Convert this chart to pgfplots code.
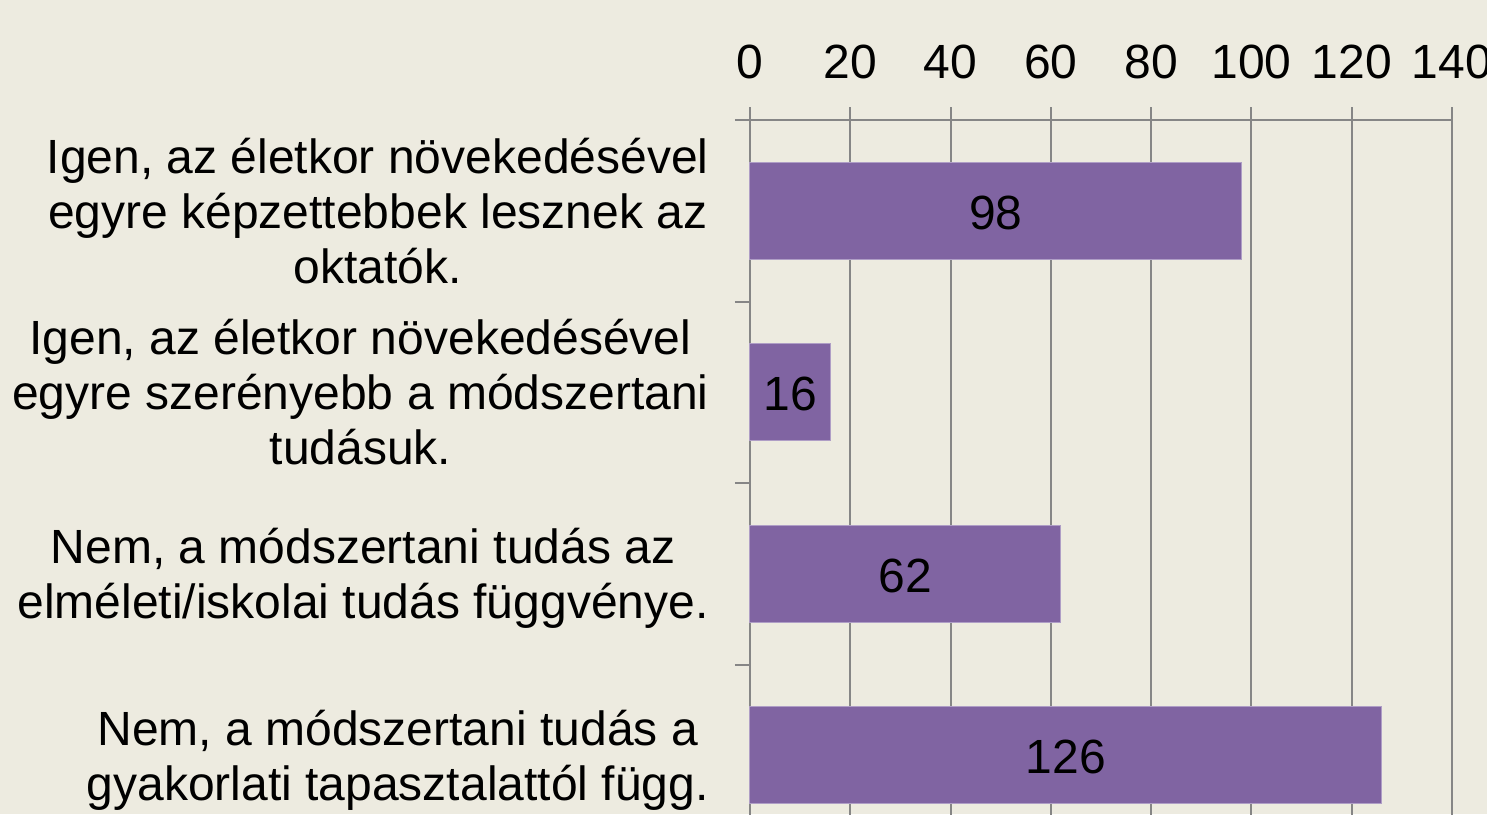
\documentclass[border=0pt]{standalone}
\usepackage{fontspec}
\setmainfont{Liberation Sans}
\usepackage{pgfplots}
\pgfplotsset{compat=1.18}
\usepackage{pgfplotstable}
\definecolor{bgcol}{RGB}{237,235,224}
\definecolor{barcol}{RGB}{128,100,162}
\definecolor{baredge}{RGB}{175,158,198}
\definecolor{gridcol}{RGB}{134,134,134}
\pgfplotstableread{
y v
3 98
2 16
1 62
0 126
}\datatable
\begin{document}
\begin{tikzpicture}
\fill[bgcol] (-375pt,60pt) rectangle (368.5pt,-347pt);
\begin{scope}
\clip (-375pt,60pt) rectangle (368.5pt,-347pt);
\begin{axis}[
  at={(0,0)}, anchor=north west,
  scale only axis, width=351pt, height=363pt,
  xmin=0, xmax=140, ymin=-0.5, ymax=3.5,
  xtick={0,20,...,140},
  xtick pos=right, xticklabel pos=right,
  tick align=outside,
  major tick length=6.5pt,
  minor tick length=7.5pt,
  xmajorgrids,
  grid style={gridcol, line width=1pt},
  axis line style={gridcol, line width=1pt},
  every tick/.style={gridcol, line width=1pt},
  ytick={0,1,2,3},
  minor ytick={-0.5,0.5,1.5,2.5,3.5},
  ytick pos=left,
  major y tick style={draw=none},
  minor y tick style={gridcol, line width=1pt},
  yticklabels={
    {Nem, a módszertani tudás a\\gyakorlati tapasztalattól függ.},
    {Nem, a módszertani tudás az\\elméleti/iskolai tudás függvénye.},
    {Igen, az életkor növekedésével\\egyre szerényebb a módszertani\\tudásuk.},
    {Igen, az életkor növekedésével\\egyre képzettebbek lesznek az\\oktatók.}
  },
  yticklabel style={align=center, anchor=east, inner sep=0pt, xshift=-14pt,
    text depth=0pt, font=\fontsize{24}{27.5}\selectfont},
  xticklabel style={font=\fontsize{24}{27.5}\selectfont, inner sep=0pt, anchor=south, yshift=14pt},
  /pgf/number format/assume math mode=true,
  clip=false,
]
\addplot[xbar, bar width=48.5pt, fill=barcol, draw=baredge, line width=0.5pt]
  table[x=v, y=y] {\datatable};
\addplot[draw=none, mark=none, nodes near coords, point meta=explicit,
  every node near coord/.style={anchor=center, black, yshift=-1pt, font=\fontsize{24}{27.5}\selectfont}]
  table[x expr=\thisrow{v}/2, y=y, meta=v] {\datatable};
\end{axis}
\end{scope}
\pgfresetboundingbox
\useasboundingbox (-375pt,60pt) rectangle (368.5pt,-347pt);
\end{tikzpicture}
\end{document}
